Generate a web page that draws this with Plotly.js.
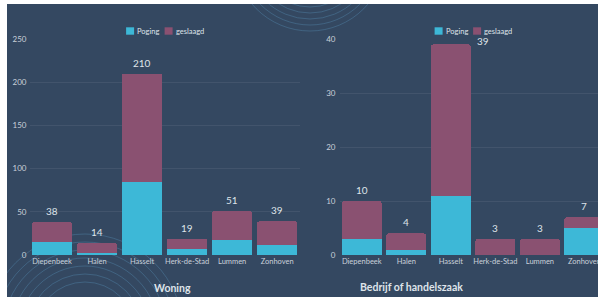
<!DOCTYPE html>
<html>
<head>
<meta charset="utf-8">
<script src="https://cdn.plot.ly/plotly-3.0.1.min.js"></script>
<style>
  html, body { margin: 0; padding: 0; background: #ffffff; overflow: hidden; width: 600px; height: 297px; }
  #wrap { position: absolute; left: 7px; top: 4px; width: 591px; height: 293px; overflow: hidden; background: #344861; }
  #chart { position: absolute; left: 0; top: 0; width: 600px; height: 293px; }
</style>
</head>
<body>
<div id="wrap"><div id="chart"></div></div>
<script>
const categories = ['Diepenbeek', 'Halen', 'Hasselt', 'Herk-de-Stad', 'Lummen', 'Zonhoven'];
const woningPoging = [15, 2, 85, 7, 17, 12];
const woningGeslaagd = [23, 12, 125, 12, 34, 27];
const bedrijfPoging = [3, 1, 11, 0, 0, 5];
const bedrijfGeslaagd = [7, 3, 28, 3, 3, 2];
const seriesNames = ['Poging', 'geslaagd'];
const titles = ['Woning', 'Bedrijf of handelszaak'];

const cyan = '#3db8d7';
const plum = '#8a5171';
const txt = '#dfe4ea';
const font = 'Lato, "Open Sans", sans-serif';

const W = 600, H = 293;
const dom1 = [22.5 / W, 292.7 / W];
const dom2 = [332.5 / W, 599.7 / W];
const ydom = [(H - 251) / H, (H - 35) / H];

function totals(a, b) { return a.map((v, i) => v + b[i]); }

const traces = [
  { type: 'bar', name: seriesNames[0], x: categories, y: woningPoging, marker: { color: cyan }, xaxis: 'x', yaxis: 'y', hoverinfo: 'skip' },
  { type: 'bar', name: seriesNames[1], x: categories, y: woningGeslaagd, marker: { color: plum }, xaxis: 'x', yaxis: 'y', hoverinfo: 'skip' },
  { type: 'bar', name: seriesNames[0], x: categories, y: bedrijfPoging, marker: { color: cyan }, xaxis: 'x2', yaxis: 'y2', hoverinfo: 'skip' },
  { type: 'bar', name: seriesNames[1], x: categories, y: bedrijfGeslaagd, marker: { color: plum }, xaxis: 'x2', yaxis: 'y2', hoverinfo: 'skip' }
];

const annotations = [];
const shapes = [];
const t1 = totals(woningPoging, woningGeslaagd);
const t2 = totals(bedrijfPoging, bedrijfGeslaagd);
t1.forEach((v, i) => annotations.push({
  x: categories[i], y: v, xref: 'x', yref: 'y', text: String(v), showarrow: false,
  yanchor: 'bottom', yshift: 3, font: { family: font, size: 10, color: txt }
}));
t2.forEach((v, i) => {
  const overflow = v > 36;
  annotations.push({
    x: categories[i], y: v, xref: 'x2', yref: 'y2', text: String(v), showarrow: false,
    xanchor: overflow ? 'left' : 'center', xshift: overflow ? 24 : 0,
    yanchor: overflow ? 'middle' : 'bottom', yshift: 3,
    font: { family: font, size: 10, color: txt }
  });
});
annotations.push({ x: 144.5 / W, y: (H - 284) / H, xref: 'paper', yref: 'paper', yanchor: 'middle', text: '<b>' + titles[0] + '</b>', showarrow: false, font: { family: font, size: 10.5, color: txt } });
annotations.push({ x: 458 / W, y: (H - 283) / H, xref: 'paper', yref: 'paper', yanchor: 'middle', text: '<b>' + titles[1] + '</b>', showarrow: false, font: { family: font, size: 10.5, color: txt } });

// custom compact legends centred over each plot
function legend(dom) {
  const c = (dom[0] + dom[1]) / 2 * W;
  const yTop = 23.3, yBot = 30.7, yMid = 27;
  const items = [[-38.5, cyan, seriesNames[0]], [0, plum, seriesNames[1]]];
  items.forEach(([dx, col, name]) => {
    shapes.push({ type: 'rect', xref: 'paper', yref: 'paper', x0: (c + dx) / W, x1: (c + dx + 8) / W,
      y0: (H - yBot) / H, y1: (H - yTop) / H, fillcolor: col, line: { width: 0 } });
    annotations.push({ x: (c + dx + 9) / W, y: (H - yMid) / H, xref: 'paper', yref: 'paper', xanchor: 'left', yanchor: 'middle',
      text: name, showarrow: false, font: { family: font, size: 7.5, color: txt } });
  });
}
legend(dom1);
legend(dom2);

// decorative rings
function ring(cx, cy, r) {
  shapes.push({ type: 'circle', xref: 'paper', yref: 'paper', layer: 'below',
    x0: (cx - r) / W, x1: (cx + r) / W, y0: (H - (cy + r)) / H, y1: (H - (cy - r)) / H,
    line: { color: 'rgba(90,150,190,0.35)', width: 1 } });
}
[52, 58, 64, 70, 76].forEach(r => ring(303, -49, r));
[50, 58, 66, 74, 82, 90, 98].forEach(r => ring(78, 328, r));

const gridc = 'rgba(255,255,255,0.07)';
const tickf = { family: font, size: 8, color: '#c9d0da' };
const xtickf = { family: font, size: 7.5, color: '#c9d0da' };

const layout = {
  width: W, height: H,
  margin: { l: 0, r: 0, t: 0, b: 0, pad: 0 },
  paper_bgcolor: 'rgba(0,0,0,0)', plot_bgcolor: 'rgba(0,0,0,0)',
  barmode: 'stack', bargap: 0.1, barcornerradius: 3,
  font: { family: font, color: txt },
  showlegend: false,
  xaxis: { domain: dom1, anchor: 'y', showgrid: false, zeroline: false, showline: false, ticks: '', tickfont: xtickf, fixedrange: true },
  yaxis: { domain: ydom, anchor: 'x', range: [0, 250], dtick: 50, gridcolor: gridc, zeroline: false, showline: false, ticks: '', tickfont: tickf, ticklabelstandoff: 2, fixedrange: true },
  xaxis2: { domain: dom2, anchor: 'y2', showgrid: false, zeroline: false, showline: false, ticks: '', tickfont: xtickf, fixedrange: true },
  yaxis2: { domain: ydom, anchor: 'x2', range: [0, 40], dtick: 10, gridcolor: gridc, zeroline: false, showline: false, ticks: '', tickfont: tickf, ticklabelstandoff: 3, fixedrange: true },
  annotations: annotations,
  shapes: shapes
};

Plotly.newPlot('chart', traces, layout, { displayModeBar: false, staticPlot: true });
</script>
</body>
</html>
